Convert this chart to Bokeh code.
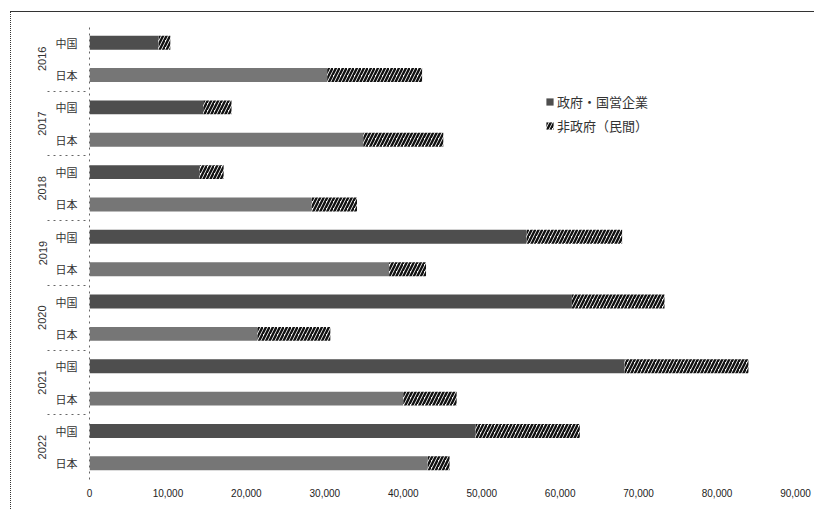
from bokeh.plotting import figure
from bokeh.models import (ColumnDataSource, FactorRange, Range1d, NumeralTickFormatter,
                          FixedTicker, Legend, LegendItem)
from bokeh.embed import file_html
from bokeh.resources import INLINE

# ---- data ----
years = ["2016", "2017", "2018", "2019", "2020", "2021", "2022"]
countries = ["中国", "日本"]
gov_china = [8800, 14500, 14000, 55700, 61500, 68200, 49200]
nongov_china = [1500, 3600, 3100, 12200, 11800, 15800, 13300]
gov_japan = [30300, 34900, 28300, 38200, 21400, 40000, 43100]
nongov_japan = [12100, 10200, 5800, 4700, 9300, 6800, 2800]
series_names = ["政府・国営企業", "非政府（民間）"]
x_ticks = [0, 10000, 20000, 30000, 40000, 50000, 60000, 70000, 80000, 90000]

# ---- build table (bottom-up so 2016 中国 is at top) ----
ys, gov, non, tot, gcol = [], [], [], [], []
for i in reversed(range(len(years))):
    for c in reversed(countries):
        ys.append((years[i], c))
        g = gov_china[i] if c == "中国" else gov_japan[i]
        n = nongov_china[i] if c == "中国" else nongov_japan[i]
        gov.append(g)
        non.append(n)
        tot.append(g + n)
        gcol.append("#4e4e4e" if c == "中国" else "#767676")

src = ColumnDataSource(dict(y=ys, gov=gov, non=non, tot=tot, gcol=gcol))

FONT = "Noto Sans CJK JP"

p = figure(width=804, height=498, output_backend="svg", toolbar_location=None,
           y_range=FactorRange(*ys, factor_padding=0, group_padding=0),
           x_range=Range1d(0, 90000),
           min_border_left=78, min_border_top=14, min_border_right=20, min_border_bottom=31)
p.styles = {"margin-left": "10px", "margin-top": "11px",
            "border-left": "1px dotted #333", "border-top": "1px solid #333"}
p.outline_line_color = None
p.xgrid.grid_line_color = None
p.ygrid.grid_line_color = None

r_gov = p.hbar(y="y", left=0, right="gov", height=0.43, source=src,
               fill_color="gcol", line_color=None)
r_non = p.hbar(y="y", left="gov", right="tot", height=0.43, source=src,
               fill_color="white", line_color=None,
               hatch_pattern="/", hatch_color="#111111", hatch_weight=2.4, hatch_scale=7)

# x axis
p.xaxis.ticker = FixedTicker(ticks=x_ticks)
p.xaxis.formatter = NumeralTickFormatter(format="0,0")
p.xaxis.axis_line_color = None
p.xaxis.major_tick_line_color = None
p.xaxis.minor_tick_line_color = None
p.xaxis.major_label_standoff = 3
p.xaxis.major_label_text_font = "Liberation Sans"
p.xaxis.major_label_text_font_size = "10px"
p.xaxis.major_label_text_color = "#222222"

# y axis (nested)
ya = p.yaxis[0]
ya.axis_line_color = "#666666"
ya.axis_line_dash = "dotted"
ya.major_tick_line_color = None
ya.minor_tick_line_color = None
ya.major_label_text_font = FONT
ya.major_label_text_font_size = "11px"
ya.major_label_text_color = "#333333"
ya.major_label_standoff = 6
ya.group_text_font = "Liberation Sans"
ya.group_text_font_size = "11px"
ya.group_text_color = "#333333"
ya.group_text_font_style = "normal"
ya.separator_line_color = "#666666"
ya.separator_line_dash = "dotted"
ya.separator_line_width = 1

legend = Legend(items=[LegendItem(label=series_names[0], renderers=[r_gov], index=1),
                       LegendItem(label=series_names[1], renderers=[r_non], index=1)],
                location=(456, 344), border_line_color=None, background_fill_alpha=0,
                padding=0, margin=0, spacing=5, glyph_width=9, glyph_height=9,
                label_standoff=3, label_text_font=FONT, label_text_font_size="13px",
                label_text_color="#333333")
p.add_layout(legend)

open("out.html", "w").write(file_html(p, INLINE))
